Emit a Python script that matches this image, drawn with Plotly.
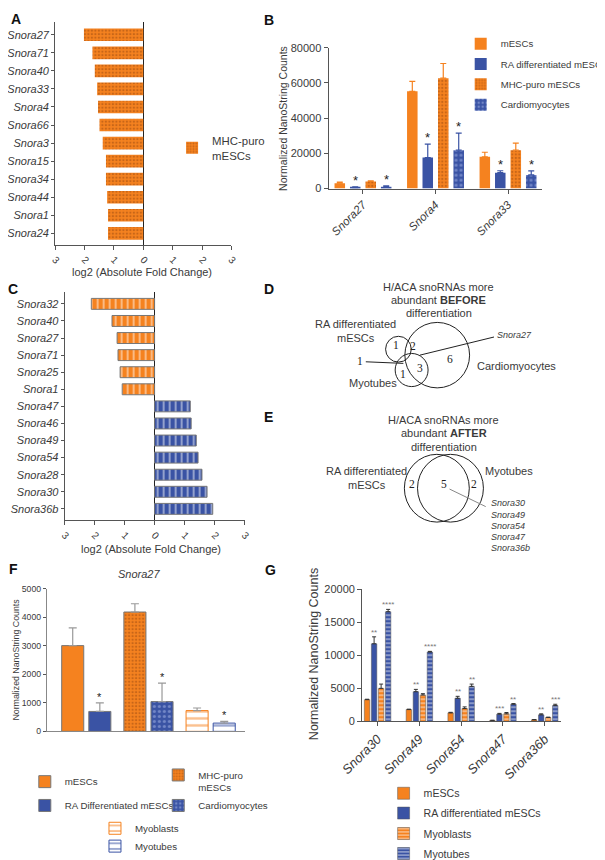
import plotly.graph_objects as go

W, H = 605, 860


def px(x):
    return x / W


def py(y):
    return 1 - y / H


ORANGE = '#F5821F'
BLUE = '#3A53A4'
DOTS = '#9C4A12'
LIGHTBLUE = '#A9B9E8'
TXT = '#3a3a3a'
AXC = '#555555'
FONT = 'Arial, Liberation Sans, sans-serif'
SERIF = 'Liberation Serif, Times New Roman, serif'

# ---- panel A: log2 fold change, MHC-puro mESCs vs cardiomyocytes
a_genes = ['Snora27', 'Snora71', 'Snora40', 'Snora33', 'Snora4', 'Snora66',
           'Snora3', 'Snora15', 'Snora34', 'Snora44', 'Snora1', 'Snora24']
a_fc = [2.02, 1.73, 1.65, 1.57, 1.54, 1.49, 1.38, 1.27, 1.27, 1.23, 1.20, 1.20]

# ---- panel B: normalized counts
b_genes = ['Snora27', 'Snora4', 'Snora33']
b_mesc = [3000, 55200, 18000]
b_mesc_err = [600, 5600, 2600]
b_ra = [500, 17600, 9000]
b_ra_err = [400, 7600, 1100]
b_mhc = [4000, 62700, 21800]
b_mhc_err = [300, 8300, 4000]
b_cm = [1000, 21800, 7700]
b_cm_err = [500, 9700, 2300]

# ---- panel C: log2 fold change, myoblasts vs myotubes
c_down_genes = ['Snora32', 'Snora40', 'Snora27', 'Snora71', 'Snora25', 'Snora1']
c_down_fc = [2.11, 1.42, 1.25, 1.22, 1.15, 1.08]
c_up_genes = ['Snora47', 'Snora46', 'Snora49', 'Snora54', 'Snora28', 'Snora30', 'Snora36b']
c_up_fc = [1.19, 1.22, 1.39, 1.45, 1.58, 1.75, 1.94]

# ---- panel F: Snora27 counts
f_cells = ['mESCs', 'RA Differentiated mESCs', 'MHC-puro<br>mESCs', 'Cardiomyocytes',
           'Myoblasts', 'Myotubes']
f_pair = ['ESC', 'ESC', 'CM', 'CM', 'MYO', 'MYO']
f_counts = [3010, 700, 4190, 1045, 730, 290]
f_err = [620, 300, 290, 650, 90, 60]
f_sig = ['', '*', '', '*', '', '*']

# ---- panel G: counts of snoRNAs up after differentiation
g_genes = ['Snora30', 'Snora49', 'Snora54', 'Snora47', 'Snora36b']
g_mesc = [3300, 1800, 1300, 150, 250]
g_mesc_err = [60, 60, 80, 30, 30]
g_ra = [11750, 4500, 3500, 1100, 1000]
g_ra_err = [1050, 350, 300, 120, 150]
g_myoblast = [5000, 4000, 1950, 1150, 600]
g_myoblast_err = [650, 200, 250, 200, 50]
g_myotube = [16600, 10500, 5300, 2600, 2400]
g_myotube_err = [350, 100, 350, 100, 200]
g_ra_sig = ['**', '**', '**', '***', '**']
g_myotube_sig = ['****', '****', '**', '**', '***']

fig = go.Figure()
ann = []
legends = {}
n_leg = [0]


def new_legend(x_sw, y_c, size=10.5, valign='middle'):
    n_leg[0] += 1
    name = 'legend' if n_leg[0] == 1 else 'legend%d' % n_leg[0]
    legends[name] = dict(x=px(x_sw - 20), y=py(y_c), xanchor='left', yanchor='middle',
                         bgcolor='rgba(0,0,0,0)', borderwidth=0, valign=valign,
                         font=dict(size=size, color=TXT, family=FONT))
    return name


def text(x, y, s, size=11, color=TXT, anchor='center', angle=0, **kw):
    ann.append(dict(x=px(x), y=py(y), xref='paper', yref='paper', text=s, showarrow=False,
                    xanchor=anchor, yanchor='middle', textangle=angle,
                    font=dict(size=size, color=color, family=kw.pop('family', FONT), **kw)))


mhc_pat = dict(shape='.', fgcolor=DOTS, bgcolor=ORANGE, size=3.5, solidity=0.35)
cm_pat = dict(shape='.', fgcolor=LIGHTBLUE, bgcolor=BLUE, size=5, solidity=0.3)

# A
fig.add_trace(go.Bar(y=a_genes, x=[-v for v in a_fc], orientation='h', width=0.7, offset=-0.35,
                     marker=dict(color=ORANGE, pattern=mhc_pat, line=dict(width=0)),
                     name='MHC-puro<br>mESCs', legend=new_legend(186, 141, 11.4),
                     xaxis='x', yaxis='y'))

# B
b_series = [('mESCs', b_mesc, b_mesc_err, dict(color=ORANGE), 36),
            ('RA differentiated mESCs', b_ra, b_ra_err, dict(color=BLUE), 56.5),
            ('MHC-puro mESCs', b_mhc, b_mhc_err, dict(color=ORANGE, pattern=mhc_pat), 77),
            ('Cardiomyocytes', b_cm, b_cm_err, dict(color=BLUE, pattern=cm_pat), 97.5)]
b_centers = [-0.32, -0.107, 0.107, 0.32]
for k, (nm, vals, err, mk, ly) in enumerate(b_series):
    mk = dict(mk, line=dict(width=0))
    fig.add_trace(go.Bar(x=b_genes, y=vals, width=0.145, offset=b_centers[k] - 0.0725,
                         marker=mk, name=nm, legend=new_legend(478, ly, 9.6),
                         error_y=dict(type='data', array=err, arrayminus=[0] * len(err), symmetric=False,
                                      color=mk['color'], thickness=1.2, width=3),
                         xaxis='x2', yaxis='y2'))
    if k in (1, 3):
        for i, (v, e) in enumerate(zip(vals, err)):
            ann.append(dict(x=i + b_centers[k], y=v + e, xref='x2', yref='y2', text='*', showarrow=False,
                            yanchor='bottom', yshift=-3, font=dict(size=13, color='#222', family=FONT)))

# C
c_genes = c_down_genes + c_up_genes
c_pat_o = dict(shape='|', fgcolor='white', bgcolor=ORANGE, size=6, solidity=0.3)
c_pat_b = dict(shape='|', fgcolor='white', bgcolor=BLUE, size=6, solidity=0.3)
fig.add_trace(go.Bar(y=c_down_genes, x=[-v for v in c_down_fc], orientation='h', width=0.64, offset=-0.32,
                     marker=dict(color=ORANGE, pattern=c_pat_o, line=dict(color='#777', width=1)),
                     showlegend=False, xaxis='x3', yaxis='y3'))
fig.add_trace(go.Bar(y=c_up_genes, x=c_up_fc, orientation='h', width=0.64, offset=-0.32,
                     marker=dict(color=BLUE, pattern=c_pat_b, line=dict(color='#777', width=1)),
                     showlegend=False, xaxis='x3', yaxis='y3'))

# F
f_marks = [dict(color=ORANGE),
           dict(color=BLUE),
           dict(color=ORANGE, pattern=mhc_pat),
           dict(color=BLUE, pattern=cm_pat),
           dict(color='white', pattern=dict(shape='-', fgcolor=ORANGE, bgcolor='white', size=7, solidity=0.35)),
           dict(color='white', pattern=dict(shape='-', fgcolor=BLUE, bgcolor='white', size=7, solidity=0.35))]
f_lines = ['#777', '#777', '#777', '#777', ORANGE, BLUE]
f_leg = [(37, 780, 'middle'), (37, 804, 'middle'), (172, 780, 'top'), (172, 804, 'middle'),
         (108, 827, 'middle'), (108, 845, 'middle')]
for k, cell in enumerate(f_cells):
    ctr = -0.218 if k % 2 == 0 else 0.218
    lx, ly, va = f_leg[k]
    fig.add_trace(go.Bar(x=[f_pair[k]], y=[f_counts[k]], width=0.355, offset=ctr - 0.1775,
                         marker=dict(f_marks[k], line=dict(color=f_lines[k], width=1)),
                         name=cell, legend=new_legend(lx, ly, 9.7, va),
                         error_y=dict(type='data', array=[f_err[k]], arrayminus=[0], symmetric=False,
                                      color='#999', thickness=1.2, width=4),
                         xaxis='x4', yaxis='y4'))
    if f_sig[k]:
        ann.append(dict(x=k // 2 + ctr, y=f_counts[k] + f_err[k], xref='x4', yref='y4', text=f_sig[k],
                        showarrow=False, yanchor='bottom', yshift=-2,
                        font=dict(size=11, color='#222', family=FONT)))

# G
g_series = [('mESCs', g_mesc, g_mesc_err, dict(color=ORANGE), None, 791.7),
            ('RA differentiated mESCs', g_ra, g_ra_err, dict(color=BLUE), g_ra_sig, 811.7),
            ('Myoblasts', g_myoblast, g_myoblast_err,
             dict(color=ORANGE, pattern=dict(shape='-', fgcolor='white', bgcolor=ORANGE, size=4, solidity=0.4)),
             None, 832.3),
            ('Myotubes', g_myotube, g_myotube_err,
             dict(color=BLUE, pattern=dict(shape='-', fgcolor='white', bgcolor=BLUE, size=4, solidity=0.4)),
             g_myotube_sig, 852.7)]
g_centers = [-0.252, -0.084, 0.084, 0.252]
for k, (nm, vals, err, mk, sig, ly) in enumerate(g_series):
    fig.add_trace(go.Bar(x=g_genes, y=vals, width=0.13, offset=g_centers[k] - 0.065,
                         marker=dict(mk, line=dict(color='#555', width=0.5)),
                         name=nm, legend=new_legend(400, ly, 10.6),
                         error_y=dict(type='data', array=err, arrayminus=[0] * len(err), symmetric=False,
                                      color='#333', thickness=1, width=2),
                         xaxis='x5', yaxis='y5'))
    if sig:
        for i, (v, e) in enumerate(zip(vals, err)):
            ann.append(dict(x=i + g_centers[k], y=v + e, xref='x5', yref='y5', text=sig[i], showarrow=False,
                            yanchor='bottom', yshift=-2, font=dict(size=8, color='#777', family=FONT)))

# axes
common = dict(showgrid=False, showline=True, linecolor=AXC, linewidth=1, ticks='outside', ticklen=4,
              tickcolor=AXC, zeroline=False, automargin=False)
fold_ticks = dict(tickvals=[-3, -2, -1, 0, 1, 2, 3], ticktext=['3', '2', '1', '0', '1', '2', '3'])
gene_font = dict(size=11, family=FONT, color=TXT, style='italic')
layout_axes = dict(
    xaxis=dict(common, domain=[px(47.7), px(226)], range=[-3, 3], tickangle=45, anchor='y',
               zeroline=True, zerolinecolor='#222', zerolinewidth=1,
               tickfont=dict(size=10, family=FONT, color=TXT), **fold_ticks),
    yaxis=dict(common, domain=[py(239), py(14)], type='category', categoryorder='array',
               categoryarray=a_genes, range=[11.65, -0.714], anchor='x', ticklen=3, tickfont=gene_font),
    xaxis2=dict(common, domain=[px(324.3), px(540)], type='category', categoryorder='array',
                categoryarray=b_genes, range=[-0.475, 2.465], tickangle=-45, anchor='y2',
                tickfont=dict(size=11.5, family=FONT, color=TXT, style='italic')),
    yaxis2=dict(common, domain=[py(182), py(40)], range=[0, 80000], tickvals=[0, 20000, 40000, 60000, 80000],
                tickformat='d', anchor='x2', tickfont=dict(size=11, family=FONT, color=TXT)),
    xaxis3=dict(common, domain=[px(57.3), px(239.3)], range=[-3, 3], tickangle=45, anchor='y3',
                zeroline=True, zerolinecolor='#222', zerolinewidth=1,
                tickfont=dict(size=10, family=FONT, color=TXT), **fold_ticks),
    yaxis3=dict(common, domain=[py(516.7), py(286)], type='category', categoryorder='array',
                categoryarray=c_genes, range=[12.68, -0.714], anchor='x3', ticklen=3, tickfont=gene_font),
    xaxis4=dict(common, domain=[px(39.3), px(240)], type='category', categoryorder='array',
                categoryarray=['ESC', 'CM', 'MYO'], range=[-0.634, 2.556], ticks='',
                showticklabels=False, anchor='y4', linecolor='#888'),
    yaxis4=dict(common, domain=[py(729.3), py(585.7)], range=[0, 5000], dtick=1000, tickformat='d',
                anchor='x4', linecolor='#888', ticklen=3, tickfont=dict(size=8.7, family=FONT, color=TXT)),
    xaxis5=dict(common, domain=[px(358.3), px(559.3)], type='category', categoryorder='array',
                categoryarray=g_genes, range=[-0.37, 4.386], tickangle=-45, anchor='y5',
                tickfont=dict(size=13, family=FONT, color=TXT, style='italic')),
    yaxis5=dict(common, domain=[py(719.3), py(586)], range=[0, 20000], dtick=5000, tickformat='d',
                anchor='x5', tickfont=dict(size=11, family=FONT, color=TXT)),
)

# axis titles
text(136, 266, 'log2 (Absolute Fold Change)', 11)
text(145, 545, 'log2 (Absolute Fold Change)', 11)
text(278, 111, 'Normalized NanoString Counts', 10.5, angle=-90)
text(8, 657, 'Normalized NanoString Counts', 8.8, angle=-90)
text(309, 651, 'Normalized NanoString Counts', 12.5, angle=-90)
text(133, 571, 'Snora27', 11, style='italic')

# panel letters
for lt, x, y in [('A', 8, 11), ('B', 264, 12), ('C', 5, 283), ('D', 264, 283), ('E', 264, 412),
                 ('F', 6, 566), ('G', 266, 567)]:
    text(x, y, '<b>%s</b>' % lt, 14, color='#111')

# Venn D
shapes = []


def circle(x0, x1, y0, y1):
    shapes.append(dict(type='circle', xref='paper', yref='paper', x0=px(x0), x1=px(x1), y0=py(y1), y1=py(y0),
                       line=dict(color='#222', width=1)))


def seg(x0, y0, x1, y1, color='#222'):
    shapes.append(dict(type='line', xref='paper', yref='paper', x0=px(x0), y0=py(y0), x1=px(x1), y1=py(y1),
                       line=dict(color=color, width=1)))


text(436, 281, 'H/ACA snoRNAs more', 11)
text(436, 294, 'abundant <b>BEFORE</b>', 11)
text(436, 307.5, 'differentiation', 11)
circle(382, 408, 331, 357)
circle(391.7, 425, 348.3, 381.7)
circle(401.5, 467, 317, 383)
seg(362, 356.7, 400, 358.3)
seg(416.7, 350, 491.7, 331.7)
text(352, 318.3, 'RA differentiated', 11)
text(352, 332.3, 'mESCs', 11)
text(369, 378.3, 'Myotubes', 11)
text(514, 360.7, 'Cardiomyocytes', 11)
text(493, 330, 'Snora27', 9, anchor='left', style='italic')
for s, x, y in [('1', 392.7, 339.3), ('2', 410, 341), ('1', 356, 356), ('3', 416.7, 362.7),
                ('1', 399.3, 369.3), ('6', 447.3, 354)]:
    text(x, y, s, 11.5, color='#222', family=SERIF)

# Venn E
text(440.7, 415, 'H/ACA snoRNAs more', 11)
text(440.7, 428.3, 'abundant <b>AFTER</b>', 11)
text(440.7, 442.3, 'differentiation', 11)
circle(401, 466.7, 450, 518.3)
circle(414.3, 481, 450, 518.3)
seg(446.7, 485, 483.3, 502.7, '#888')
text(362.7, 466.7, 'RA differentiated', 11)
text(362.7, 480.7, 'mESCs', 11)
text(507.3, 466.7, 'Myotubes', 11)
for s, x, y in [('2', 408.3, 480), ('5', 440.7, 480), ('2', 471, 480)]:
    text(x, y, s, 11.5, color='#222', family=SERIF)
for j, g in enumerate(['Snora30', 'Snora49', 'Snora54', 'Snora47', 'Snora36b']):
    text(486.7, 499.3 + j * 11.4, g, 9, anchor='left', style='italic')

fig.update_layout(width=W, height=H, margin=dict(l=0, r=0, t=0, b=0), barmode='overlay',
                  plot_bgcolor='white', paper_bgcolor='white', font=dict(family=FONT, color=TXT),
                  annotations=ann, shapes=shapes, **layout_axes, **legends)
fig.write_html('out.html')
